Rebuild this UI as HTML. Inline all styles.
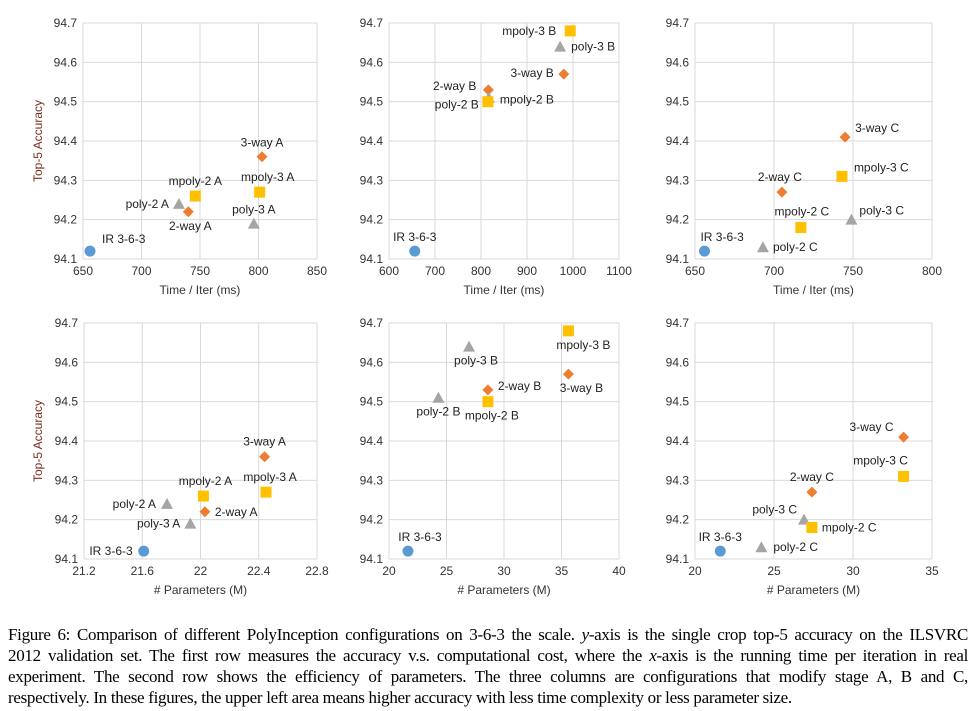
<!DOCTYPE html>
<html><head><meta charset="utf-8"><style>
body{margin:0;background:#fff;width:975px;height:711px;overflow:hidden;position:relative;font-family:"Liberation Sans",sans-serif}
svg{position:absolute;left:0;top:0}
#cap{position:absolute;left:8px;top:624px;width:960px;font-family:"Liberation Serif",serif;font-size:17px;line-height:21px;color:#000;letter-spacing:-0.3px}
#cap div{white-space:nowrap;text-align:justify;text-align-last:justify}
#cap div.last{text-align-last:left}
</style></head><body>
<svg id="chart" width="975" height="620"></svg>
<div id="cap">
<div>Figure 6: Comparison of different PolyInception configurations on 3-6-3 the scale. <i>y</i>-axis is the single crop top-5 accuracy on the ILSVRC</div>
<div>2012 validation set. The first row measures the accuracy v.s. computational cost, where the <i>x</i>-axis is the running time per iteration in real</div>
<div>experiment. The second row shows the efficiency of parameters. The three columns are configurations that modify stage A, B and C,</div>
<div class="last">respectively. In these figures, the upper left area means higher accuracy with less time complexity or less parameter size.</div>
</div>
<script>
const yTicks=[94.1,94.2,94.3,94.4,94.5,94.6,94.7];
const xTicksA=[650,700,750,800,850];
const xTicksB=[600,700,800,900,1000,1100];
const xTicksC=[650,700,750,800];
const xTicksD=[21.2,21.6,22,22.4,22.8];
const xTicksE=[20,25,30,35,40];
const xTicksF=[20,25,30,35];
const labelsA=["IR 3-6-3","poly-2 A","2-way A","mpoly-2 A","3-way A","mpoly-3 A","poly-3 A"];
const xA=[656,732,740,746,803,801,796];
const yA=[94.12,94.24,94.22,94.26,94.36,94.27,94.19];
const labelsB=["IR 3-6-3","2-way B","poly-2 B","mpoly-2 B","3-way B","poly-3 B","mpoly-3 B"];
const xB=[656,816,817,815,980,972,994];
const yB=[94.12,94.53,94.51,94.50,94.57,94.64,94.68];
const labelsC=["IR 3-6-3","poly-2 C","2-way C","mpoly-2 C","mpoly-3 C","3-way C","poly-3 C"];
const xC=[656,693,705,717,743,745,749];
const yC=[94.12,94.13,94.27,94.18,94.31,94.41,94.20];
const labelsD=["IR 3-6-3","poly-2 A","mpoly-2 A","2-way A","poly-3 A","3-way A","mpoly-3 A"];
const xD=[21.61,21.77,22.02,22.03,21.93,22.44,22.45];
const yD=[94.12,94.24,94.26,94.22,94.19,94.36,94.27];
const labelsE=["IR 3-6-3","poly-2 B","poly-3 B","2-way B","mpoly-2 B","3-way B","mpoly-3 B"];
const xE=[21.65,24.3,26.96,28.6,28.6,35.6,35.6];
const yE=[94.12,94.51,94.64,94.53,94.50,94.57,94.68];
const labelsF=["IR 3-6-3","poly-2 C","poly-3 C","mpoly-2 C","2-way C","3-way C","mpoly-3 C"];
const xF=[21.6,24.2,26.9,27.4,27.4,33.2,33.2];
const yF=[94.12,94.13,94.20,94.18,94.27,94.41,94.31];

// label placement (styling): [dx,dy,anchor]
const offA=[[12,-8,"start"],[-10,4,"end"],[2,18,"middle"],[0,-11,"middle"],[0,-10,"middle"],[8,-11,"middle"],[0,-10,"middle"]];
const offB=[[0,-10,"middle"],[-12,0,"end"],[-10,11,"end"],[12,2,"start"],[-10,3,"end"],[11,4,"start"],[-14,4,"end"]];
const offC=[[-4,-10,"start"],[10,4,"start"],[-2,-11,"middle"],[1,-12,"middle"],[12,-5,"start"],[10,-5,"start"],[8,-5,"start"]];
const offD=[[-11,4,"end"],[-11,4,"end"],[2,-11,"middle"],[10,4,"start"],[-10,4,"end"],[0,-11,"middle"],[4,-11,"middle"]];
const offE=[[12,-10,"middle"],[0,18,"middle"],[7,18,"middle"],[10,0,"start"],[4,18,"middle"],[13,18,"middle"],[15,18,"middle"]];
const offF=[[0,-10,"middle"],[12,4,"start"],[-7,-6,"end"],[10,4,"start"],[0,-11,"middle"],[-10,-6,"end"],[-23,-12,"middle"]];

const NS="http://www.w3.org/2000/svg";
const svg=document.getElementById('chart');
function mk(tag,attrs,parent){const e=document.createElementNS(NS,tag);for(const k in attrs)e.setAttribute(k,attrs[k]);(parent||svg).appendChild(e);return e;}
const panels=[
 {n:"a",L:83,R:317,T:23,B:259,x0:650,x1:850,xt:xTicksA,xl:"Time / Iter (ms)",lab:labelsA,xs:xA,ys:yA,off:offA,yl:true},
 {n:"b",L:389,R:619,T:23,B:259,x0:600,x1:1100,xt:xTicksB,xl:"Time / Iter (ms)",lab:labelsB,xs:xB,ys:yB,off:offB},
 {n:"c",L:695,R:932,T:23,B:259,x0:650,x1:800,xt:xTicksC,xl:"Time / Iter (ms)",lab:labelsC,xs:xC,ys:yC,off:offC},
 {n:"d",L:84,R:317,T:323,B:559,x0:21.2,x1:22.8,xt:xTicksD,xl:"# Parameters (M)",lab:labelsD,xs:xD,ys:yD,off:offD,yl:true},
 {n:"e",L:389,R:619,T:323,B:559,x0:20,x1:40,xt:xTicksE,xl:"# Parameters (M)",lab:labelsE,xs:xE,ys:yE,off:offE},
 {n:"f",L:695,R:932,T:323,B:559,x0:20,x1:35,xt:xTicksF,xl:"# Parameters (M)",lab:labelsF,xs:xF,ys:yF,off:offF}
];
panels.forEach(p=>{
 const g=mk('g',{});
 
 
 const sx=v=>p.L+(v-p.x0)/(p.x1-p.x0)*(p.R-p.L);
 const sy=v=>p.B-(v-94.1)/0.6*(p.B-p.T);
 yTicks.forEach(t=>{
  const l=mk('line',{x1:p.L,x2:p.R,y1:sy(t),y2:sy(t),stroke:'#d9d9d9','stroke-width':1},g);
  
  
  const tx=mk('text',{x:p.L-6,y:sy(t)+4,'text-anchor':'end','font-size':12,fill:'#333'},g);
  tx.textContent=t.toFixed(1);
  
  
 });
 p.xt.forEach((t,i)=>{
  const l=mk('line',{x1:sx(t),x2:sx(t),y1:p.T,y2:p.B,stroke:'#d9d9d9','stroke-width':1},g);
  
  
  const tx=mk('text',{x:sx(t),y:p.B+16,'text-anchor':'middle','font-size':12,fill:'#333'},g);
  tx.textContent=String(t);
  
  
 });
 const xl=mk('text',{x:(p.L+p.R)/2,y:p.B+35,'text-anchor':'middle','font-size':12,fill:'#333'},g);
 xl.textContent=p.xl;
 
 
 if(p.yl){
  const cy=(p.T+p.B)/2;
  const yl=mk('text',{x:42,y:cy,'text-anchor':'middle','font-size':12,fill:'#7a2e1e',transform:`rotate(-90 42 ${cy})`},g);
  yl.textContent="Top-5 Accuracy";
  
  
 }
 p.lab.forEach((lb,i)=>{
  const x=sx(p.xs[i]),y=sy(p.ys[i]);let m;
  if(lb.startsWith('IR')) m=mk('circle',{cx:x,cy:y,r:5.5,fill:'#5b9bd5'},g);
  else if(lb.startsWith('mpoly')) m=mk('rect',{x:x-5.5,y:y-5.5,width:11,height:11,fill:'#ffc000'},g);
  else if(lb.startsWith('poly')) m=mk('polygon',{points:`${x},${y-6} ${x+6},${y+5} ${x-6},${y+5}`,fill:'#a5a5a5'},g);
  else m=mk('polygon',{points:`${x},${y-5.5} ${x+5.5},${y} ${x},${y+5.5} ${x-5.5},${y}`,fill:'#ed7d31'},g);
  
  
  const o=p.off[i];
  const t=mk('text',{x:x+o[0],y:y+o[1],'text-anchor':o[2],'font-size':12,fill:'#222'},g);
  t.textContent=lb;
  
  
 });
});
</script>
</body></html>
